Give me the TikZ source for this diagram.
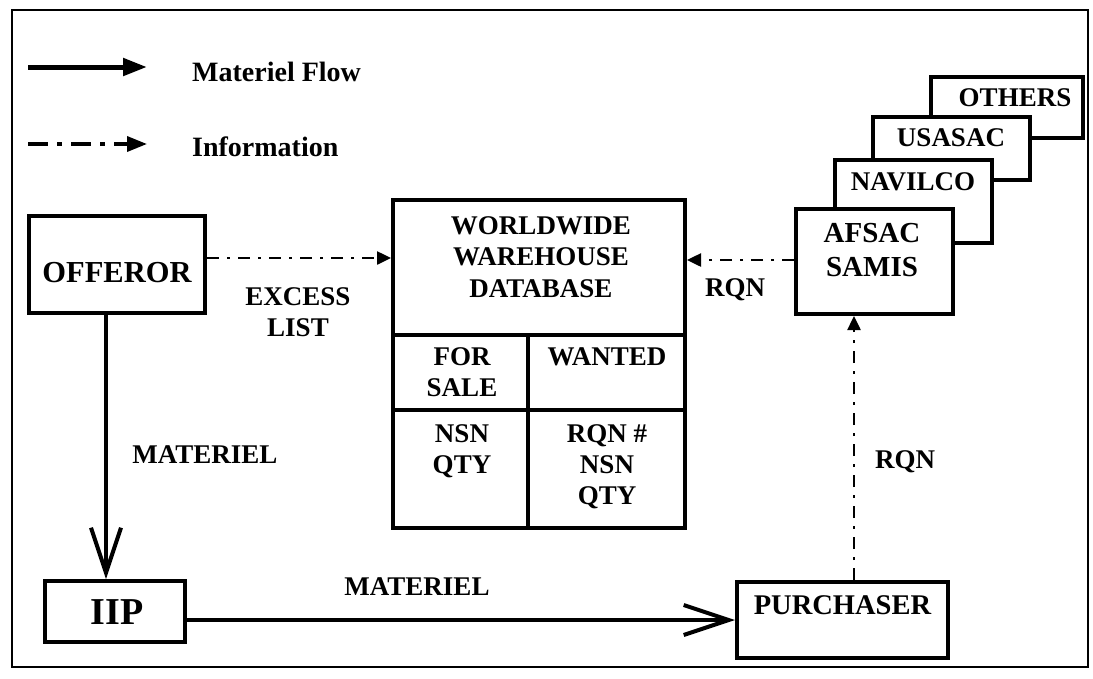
\documentclass[tikz,border=0pt]{standalone}
\usepackage{fontspec}
\setmainfont{Liberation Serif}
\usetikzlibrary{arrows.meta}
\begin{document}
\begin{tikzpicture}[x=1pt,y=-1pt,
 box/.style={draw,line width=4pt,fill=white,inner sep=0pt},
 lbl/.style={font=\fontsize{27}{31}\selectfont\bfseries,align=center,inner sep=0pt},
 blbl/.style={font=\fontsize{29}{34}\selectfont\bfseries,align=center,inner sep=0pt},
 mat/.style={line width=4pt,-{Straight Barb[length=45pt,width=30pt]}},
 info/.style={line width=2.5pt,dash pattern=on 12pt off 8pt on 3pt off 8pt,-{Triangle[length=14pt,width=13pt]}},
]
\useasboundingbox (0,0) rectangle (1093,678);
\draw[line width=2pt] (12,10) rectangle (1088,667);

% legend
\coordinate (l1a) at (28,67); \coordinate (l1b) at (147,67);
\coordinate (l2a) at (28,144); \coordinate (l2b) at (147,144);
\draw[line width=5pt,-{Triangle[length=24pt,width=17pt]}] (l1a) -- (l1b);
\draw[line width=3.5pt,dash pattern=on 20pt off 9pt on 5pt off 9pt,-{Triangle[length=20pt,width=15pt]}] (l2a) -- (l2b);
\node[lbl,font=\fontsize{28}{31}\selectfont\bfseries,anchor=west] (lt1) at (192,72) {Materiel Flow};
\node[lbl,font=\fontsize{28}{31}\selectfont\bfseries,anchor=west] (lt2) at (192,147) {Information};

% offeror, iip, purchaser
\node[box,minimum width=176pt,minimum height=97pt] (off) at (117,264.5) {};
\node[blbl,font=\fontsize{30.5}{34}\selectfont\bfseries] (offt) at (117,273) {OFFEROR};
\node[box,minimum width=140pt,minimum height=61pt] (iip) at (115,611.5) {};
\node[blbl,font=\fontsize{38}{40}\selectfont\bfseries] (iipt) at (117,612) {IIP};
\node[box,minimum width=211pt,minimum height=76pt] (pur) at (842.5,620) {};
\node[lbl,font=\fontsize{28.5}{31}\selectfont\bfseries] (purt) at (842.5,605) {PURCHASER};

% database
\node[box,minimum width=292pt,minimum height=135pt] (dbtop) at (539,267.5) {};
\node[box,minimum width=135pt,minimum height=75pt] (fs) at (460.5,372.5) {};
\node[box,minimum width=157pt,minimum height=75pt] (wt) at (606.5,372.5) {};
\node[box,minimum width=135pt,minimum height=118pt] (nsn) at (460.5,469) {};
\node[box,minimum width=157pt,minimum height=118pt] (rqn) at (606.5,469) {};
\node[blbl,font=\fontsize{27}{31.5}\selectfont\bfseries] (dbt) at (541,257) {WORLDWIDE\\WAREHOUSE\\DATABASE};
\node[lbl] (fst) at (462,372.5) {FOR\\SALE};
\node[lbl] (wtt) at (607,357) {WANTED};
\node[lbl] (nsnt) at (462,451) {NSN\\QTY};
\node[lbl] (rqnt) at (607,466.5) {RQN \#\\NSN\\QTY};

% stacked agencies
\node[box,minimum width=152pt,minimum height=61pt] (oth) at (1007,107.5) {};
\node[lbl] (otht) at (1015,98) {OTHERS};
\node[box,minimum width=157pt,minimum height=63pt] (usa) at (951.5,148.5) {};
\node[lbl] (usat) at (951,138) {USASAC};
\node[box,minimum width=157pt,minimum height=83pt] (nav) at (913.5,201.5) {};
\node[lbl] (navt) at (913,182) {NAVILCO};
\node[box,minimum width=157pt,minimum height=105pt] (afs) at (874.5,261.5) {};
\node[blbl] (afst) at (872,250) {AFSAC\\SAMIS};

% connectors
\draw[mat] ([xshift=-11pt]off.south) -- ([xshift=-9pt]iip.north);
\draw[mat] ([yshift=-8.5pt]iip.east) -- ([yshift=-8.5pt]iip.east -| pur.west);
\draw[info] ([yshift=6.5pt]off.east) -- ([yshift=6.5pt]off.east -| dbtop.west);
\draw[info] ([yshift=1.5pt]afs.west) -- ([yshift=1.5pt]afs.west -| dbtop.east);
\draw[info] ([xshift=11.5pt]pur.north) -- ([xshift=11.5pt]pur.north |- afs.south);

% labels
\node[lbl] (exl) at (298,312.5) {EXCESS\\LIST};
\node[lbl] (rq1) at (735,290) {RQN};
\node[lbl] (rq2) at (905,462) {RQN};
\node[lbl] (m1) at (205,455) {MATERIEL};
\node[lbl] (m2) at (417,587) {MATERIEL};
\end{tikzpicture}
\end{document}
